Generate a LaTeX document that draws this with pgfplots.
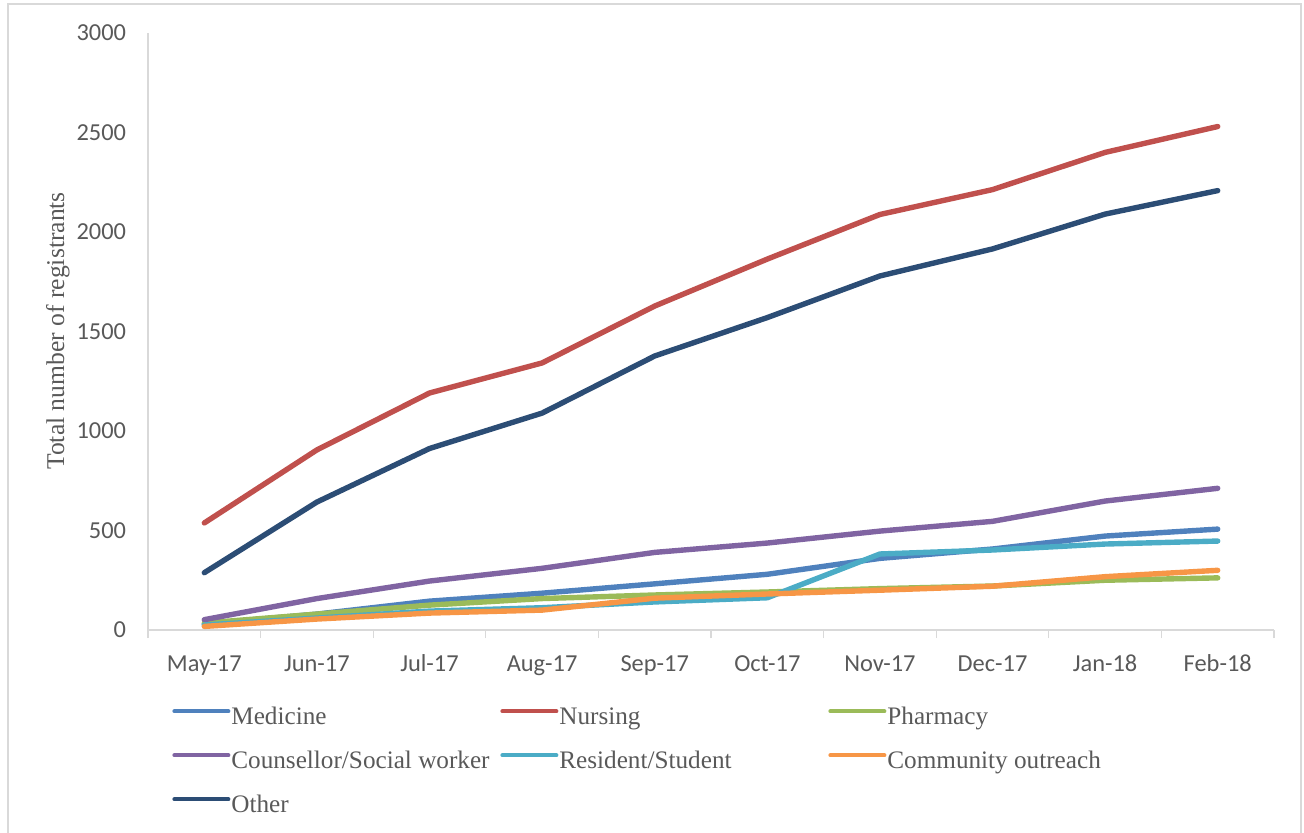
\documentclass[border=0pt]{standalone}
\usepackage{fontspec}
\setmainfont{Liberation Serif}
\newfontfamily\tickfont{Carlito}
\usepackage{pgfplots}
\pgfplotsset{compat=1.18}
\definecolor{cMed}{HTML}{4F81BD}
\definecolor{cNur}{HTML}{C0504D}
\definecolor{cPha}{HTML}{9BBB59}
\definecolor{cCou}{HTML}{8064A2}
\definecolor{cRes}{HTML}{4BACC6}
\definecolor{cCom}{HTML}{F79646}
\definecolor{cOth}{HTML}{2C4D75}
\definecolor{axgray}{HTML}{D9D9D9}
\definecolor{txtgray}{HTML}{595959}
\tikzset{ser/.style={draw=#1, line width=2.7pt, line join=round, line cap=round}}
\begin{document}
\begin{tikzpicture}
\useasboundingbox (0,0) rectangle (652pt,-416.5pt);
\draw[axgray, line width=0.6pt] (4pt,-416.5pt) -- (4pt,-2pt) -- (650.5pt,-2pt) -- (650.5pt,-416.5pt);
\begin{axis}[
  at={(74pt,-315pt)}, anchor=south west,
  scale only axis, width=563pt, height=298.5pt,
  xmin=-0.5, xmax=9.5, ymin=0, ymax=3000,
  axis x line*=bottom, axis y line*=left,
  axis line style={axgray, line width=0.6pt, -},
  xtick={0,...,9},
  xticklabels={May-17,Jun-17,Jul-17,Aug-17,Sep-17,Oct-17,Nov-17,Dec-17,Jan-18,Feb-18},
  minor xtick={-0.5,0.5,...,9.5},
  major x tick style={draw=none},
  minor x tick style={axgray, line width=0.6pt},
  minor tick length=4pt,
  tick align=outside,
  ytick={0,500,...,3000},
  major y tick style={draw=none},
  scaled y ticks=false,
  /pgf/number format/1000 sep={},
  /pgf/number format/assume math mode=true,
  tick label style={font=\tickfont\fontsize{12.2}{14}\selectfont, text=txtgray},
  yticklabel style={anchor=east, inner sep=0pt, xshift=-6.5pt},
  xticklabel style={anchor=base, inner sep=0pt, yshift=-16.5pt},
  ylabel={Total number of registrants},
  ylabel style={at={(axis description cs:-0.08,0.501)}, anchor=center, font=\fontsize{12.8}{14}\selectfont, text=txtgray},
  legend columns=3,
  legend cell align=left,
  legend image code/.code={\draw[#1, line width=2pt] (0pt,3.5pt) -- (27pt,3.5pt);},
  legend style={at={(axis description cs:0.0213,-0.1273)}, anchor=north west, draw=none, fill=none, inner sep=0pt,
    font=\fontsize{12.6}{14}\selectfont, text=txtgray,
    nodes={inner sep=0pt, text height=9pt, text depth=3pt},
    row sep=10pt,
    /tikz/every odd column/.style={column sep=0.5pt},
    /tikz/every even column/.style={column sep=0pt}},
]
\addplot[ser=cMed] coordinates {(0,30) (1,80) (2,145) (3,185) (4,232) (5,280) (6,360) (7,407) (8,472) (9,507)};
\addlegendentry{\makebox[134.5pt][l]{Medicine}}
\addplot[ser=cNur] coordinates {(0,538) (1,905) (2,1191) (3,1342) (4,1628) (5,1864) (6,2088) (7,2213) (8,2400) (9,2530)};
\addlegendentry{\makebox[134.5pt][l]{Nursing}}
\addplot[ser=cPha] coordinates {(0,35) (1,80) (2,125) (3,158) (4,176) (5,191) (6,208) (7,221) (8,250) (9,262)};
\addlegendentry{\makebox[134.5pt][l]{Pharmacy}}
\addplot[ser=cCou] coordinates {(0,52) (1,158) (2,246) (3,310) (4,390) (5,437) (6,497) (7,546) (8,648) (9,712)};
\addlegendentry{\makebox[134.5pt][l]{Counsellor/Social worker}}
\addplot[ser=cRes] coordinates {(0,25) (1,60) (2,95) (3,112) (4,141) (5,162) (6,382) (7,402) (8,432) (9,447)};
\addlegendentry{\makebox[134.5pt][l]{Resident/Student}}
\addplot[ser=cCom] coordinates {(0,18) (1,55) (2,85) (3,100) (4,160) (5,181) (6,200) (7,220) (8,268) (9,300)};
\addlegendentry{\makebox[134.5pt][l]{Community outreach}}
\addplot[ser=cOth] coordinates {(0,288) (1,643) (2,912) (3,1090) (4,1377) (5,1570) (6,1779) (7,1915) (8,2090) (9,2208)};
\addlegendentry{\makebox[134.5pt][l]{Other}}
\end{axis}
\end{tikzpicture}
\end{document}
